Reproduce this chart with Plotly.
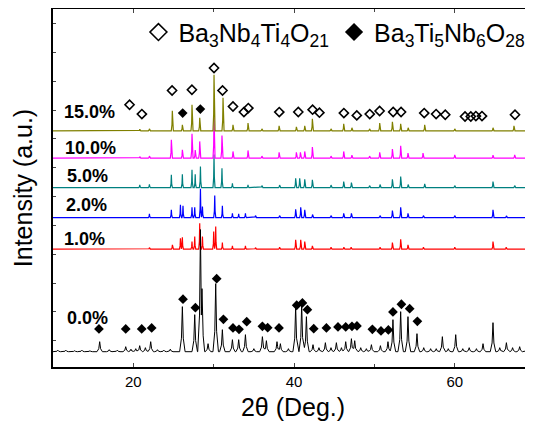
import plotly.graph_objects as go

# ---------------- data ----------------
labels = ["0.0%", "1.0%", "2.0%", "5.0%", "10.0%", "15.0%"]
colors = ["#000000", "#FF0000", "#0000FF", "#008080", "#FF00FF", "#808000"]
offsets = [15.3, 117.7, 149.3, 179.3, 208.7, 236.0]

pos_00 = [10.6, 11.6, 12.7, 13.6, 14.6, 15.81, 17.0, 18.0, 19.05, 19.7, 20.3, 20.79, 21.5, 22.16, 23.0, 23.8, 24.6,
          26.10, 27.64, 28.35, 28.54, 29.3, 30.25, 31.08, 32.33, 33.11, 33.95, 35.0, 36.06, 36.56, 37.88, 38.30,
          39.3, 40.20, 40.95, 41.54, 42.36, 43.1, 43.90, 44.6, 45.27, 45.9, 46.43, 47.14, 47.55, 48.3, 49.0,
          49.63, 50.75, 51.69, 52.31, 53.27, 54.18, 55.30, 56.14, 57.0, 57.7, 58.46, 59.2, 60.12, 61.0, 61.8,
          62.7, 63.52, 64.76, 65.6, 66.43, 67.2, 68.08, 68.9]
h_00 = [1.5, 1.5, 1.0, 1.5, 1.0, 10, 2, 1.5, 5, 2.5, 3, 6, 4, 10, 2, 1.5, 2.5,
        45, 37, 122, 63, 8, 68, 22, 12, 12, 17, 3, 15, 11, 10, 8,
        3, 45, 47, 35, 7, 4, 9, 4, 9, 4, 10, 13, 11, 4, 3,
        7, 6, 10, 32, 40, 35, 18, 4, 3, 3, 15, 3, 17, 3, 4,
        3, 8, 29, 4, 9, 4, 5, 2]

pos_01 = [22.0, 24.86, 25.86, 26.10, 27.30, 27.64, 28.26, 28.60, 30.00, 30.25, 31.08, 32.33, 33.95, 35.2,
          38.2, 40.20, 40.83, 41.33, 42.28, 44.6, 46.2, 47.1, 50.7, 52.24, 53.27, 54.18, 56.1, 60.0, 64.76, 66.4]
h_01 = [1.5, 4.3, 11, 12, 7.7, 12.7, 26, 12.7, 17.7, 22.6, 6.7, 3.3, 3.3, 1.5,
        2, 9.3, 9.3, 7.7, 3.3, 2, 2, 2, 2, 6.7, 10, 4.3, 2, 2, 7.7, 2]

pos_02 = [22.0, 24.73, 25.86, 26.18, 27.30, 27.64, 28.35, 28.60, 30.13, 31.08, 32.33, 33.11, 33.95, 35.2,
          38.2, 40.20, 40.83, 41.33, 42.3, 44.6, 46.18, 47.14, 50.7, 52.24, 53.27, 54.18, 56.1, 60.0, 64.76, 66.43]
h_02 = [3.7, 7.7, 12.7, 11.7, 10.3, 10.3, 28.7, 11, 22, 11.7, 4.3, 3.7, 4.3, 2,
        2, 8.3, 10.3, 7.7, 3, 2, 4.3, 4.3, 2, 7, 10.3, 4.3, 2, 2, 7.7, 1.7]

pos_05 = [20.8, 22.0, 24.73, 26.10, 27.30, 27.70, 28.35, 30.04, 31.03, 32.33, 34.27, 36.0, 38.2, 40.20,
          40.70, 41.33, 42.28, 44.6, 46.18, 47.14, 49.4, 50.7, 52.24, 53.27, 54.2, 56.26, 60.0, 64.76, 67.46]
h_05 = [2.7, 3.3, 12.7, 13.3, 17.7, 13.3, 21, 33, 19.3, 4.3, 2.7, 2, 2.5, 9.3,
        9.3, 8.3, 7.7, 2.5, 6, 5, 2, 3, 8.3, 11, 3, 3.7, 2, 6, 2]

pos_10 = [20.8, 22.0, 24.73, 26.10, 27.30, 27.70, 28.26, 30.04, 31.03, 32.40, 34.27, 36.0, 38.14, 40.29,
          40.79, 41.33, 42.28, 44.6, 46.18, 47.2, 49.4, 50.66, 52.24, 53.27, 54.18, 56.05, 60.0, 64.76, 67.46]
h_10 = [1.5, 2, 18.3, 8.3, 24.3, 8, 16.7, 42, 22.7, 6.7, 7.7, 2, 5.7, 5.7,
        5.7, 6.7, 11, 2, 6.7, 3, 2, 5.7, 9, 12.3, 5, 5, 3.3, 3, 3.3]

pos_15 = [20.8, 22.0, 24.85, 26.10, 27.30, 28.26, 30.04, 31.16, 32.40, 34.27, 36.0, 38.14, 40.29, 41.33,
          42.28, 44.6, 46.18, 47.2, 49.4, 50.66, 52.24, 53.27, 54.2, 56.26, 60.0, 64.76, 67.37]
h_15 = [1.5, 2, 20, 6, 26, 13, 56, 33, 6, 7.7, 2, 5, 4, 5,
        12, 2, 7, 3, 2, 7.7, 9, 7, 3, 6, 2, 3, 5]

# Ba3Nb4Ti4O21 reflections (open diamonds, 15.0% pattern)
open_x = [19.53, 21.06, 24.82, 27.29, 30.04, 31.10, 32.40, 33.76, 34.31, 38.16, 40.53, 42.31, 43.16, 46.20,
          47.81, 49.42, 50.65, 52.34, 53.32, 56.20, 57.68, 58.82, 61.28, 62.00, 62.63, 63.39, 67.50]
open_y = [262.0, 252.7, 276.3, 277.0, 298.7, 276.3, 260.3, 254.7, 258.7, 254.7, 254.8, 257.1, 254.1, 253.7,
          251.4, 252.7, 255.8, 254.8, 254.8, 253.7, 252.7, 252.0, 250.3, 250.3, 250.7, 250.7, 252.0]

# Ba3Ti5Nb6O28 reflections (filled diamonds, 0.0% and 15.0% patterns)
fill_x = [15.72, 19.05, 21.04, 22.28, 26.18, 27.72, 30.37, 31.21, 32.40, 33.15, 34.11, 36.06, 36.72, 38.13,
          40.33, 41.04, 41.66, 42.45, 44.03, 45.47, 46.43, 47.21, 47.83, 49.75, 50.82, 51.74, 52.31, 53.36,
          54.39, 55.35, 26.14, 28.34]
fill_y = [38.0, 38.0, 38.0, 39.0, 67.7, 59.3, 88.3, 47.7, 39.0, 37.7, 45.3, 40.7, 39.3, 39.0,
          61.7, 64.0, 57.3, 38.3, 39.0, 40.0, 40.0, 40.7, 41.0, 37.7, 36.0, 37.0, 55.0, 62.7,
          58.3, 45.7, 253.7, 257.7]

series_pos = [pos_00, pos_01, pos_02, pos_05, pos_10, pos_15]
series_h = [h_00, h_01, h_02, h_05, h_10, h_15]
half_widths = [0.34, 0.13, 0.13, 0.13, 0.13, 0.13]
X_MIN, X_MAX = 10.0, 69.74


def stick_profile(pos, h, off, w):
    """Polyline through each listed reflection: baseline -> apex -> baseline."""
    pts = []
    for p, v in zip(pos, h):
        pts += [p - w, p - w / 3, p, p + w / 3, p + w]
    pts = sorted(set([X_MIN, X_MAX] + pts))
    ys = []
    for x in pts:
        best = 0.0
        for p, v in zip(pos, h):
            d = abs(x - p) / w
            if d < 1:
                shape = 1 - 2.1 * d if d < 1 / 3 else 0.3 * (1 - d) * 1.5
                best = max(best, v * shape)
        ys.append(off + best)
    return pts, ys


fig = go.Figure()
draw_order = [1, 2, 3, 4, 5, 0]
for i in draw_order:
    xs, ys = stick_profile(series_pos[i], series_h[i], offsets[i], half_widths[i])
    fig.add_trace(go.Scatter(x=xs, y=ys, mode="lines", line=dict(color=colors[i], width=1.2 if i else 1.0),
                             showlegend=False, hoverinfo="skip"))

fig.add_trace(go.Scatter(x=open_x, y=open_y, mode="markers", showlegend=False,
                         marker=dict(symbol="diamond-open", size=7, color="black", line=dict(width=1.6, color="black"))))
fig.add_trace(go.Scatter(x=fill_x, y=fill_y, mode="markers", showlegend=False,
                         marker=dict(symbol="diamond", size=7.5, color="black", line=dict(width=0))))

# legend entries
fig.add_trace(go.Scatter(x=[None], y=[None], mode="markers", name="Ba<sub>3</sub>Nb<sub>4</sub>Ti<sub>4</sub>O<sub>21</sub>",
                         marker=dict(symbol="diamond-open", size=13, color="black", line=dict(width=1.6, color="black"))))
fig.add_trace(go.Scatter(x=[None], y=[None], mode="markers", name="Ba<sub>3</sub>Ti<sub>5</sub>Nb<sub>6</sub>O<sub>28</sub>",
                         marker=dict(symbol="diamond", size=14, color="black")))

label_x = [11.49, 11.08, 11.37, 11.49, 11.28, 11.12]
label_y = [49, 128, 162, 191, 219, 255]
for i in range(6):
    fig.add_annotation(x=label_x[i], y=label_y[i], text="<b>%s</b>" % labels[i], showarrow=False,
                       xanchor="left", yanchor="middle",
                       font=dict(family="Arial, Liberation Sans, sans-serif", size=18, color="black"))

# page body adds an 8 px margin, so the figure is 8 px smaller and margins shifted
fig.update_layout(
    width=525, height=416, autosize=False,
    margin=dict(l=45, r=0, t=1, b=57, autoexpand=False),
    paper_bgcolor="white", plot_bgcolor="white",
    font=dict(family="Arial, Liberation Sans, sans-serif", color="black"),
    legend=dict(orientation="h", x=0.178, y=0.935, xanchor="left", yanchor="middle",
                font=dict(size=25, color="black"), bgcolor="rgba(0,0,0,0)", itemwidth=30,
                tracegroupgap=0),
    xaxis=dict(range=[X_MIN, X_MAX], tick0=0, dtick=20, ticks="inside", ticklen=4, tickwidth=1.3,
               showline=True, linewidth=1.5, linecolor="black", mirror="ticks", showgrid=False, zeroline=False,
               automargin=False,
               tickfont=dict(size=15, color="black", family="Arial Black, Arial, Liberation Sans"),
               minor=dict(dtick=10, tick0=0, ticks="inside", ticklen=3, tickwidth=1.2, showgrid=False),
               title=dict(text="2θ (Deg.)", font=dict(size=25, color="black"), standoff=10)),
    yaxis=dict(range=[0, 357.7], tick0=26.3, dtick=28.8, ticks="inside", ticklen=3, tickwidth=1.2,
               showticklabels=False, showline=True, linewidth=1.5, linecolor="black", showgrid=False,
               zeroline=False, automargin=False,
               title=dict(text="Intensity (a.u.)", font=dict(size=25, color="black"), standoff=12)),
)

fig.write_html("out.html")
